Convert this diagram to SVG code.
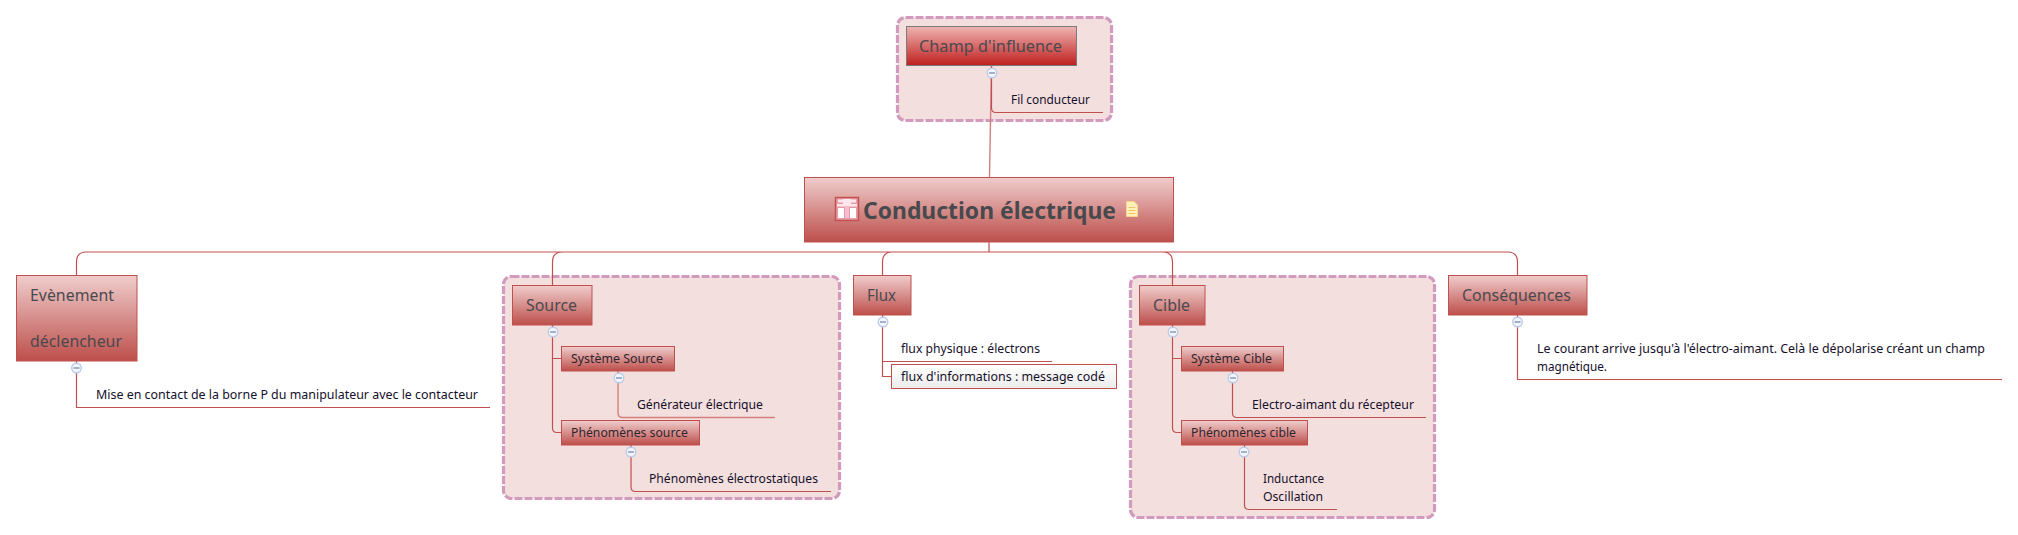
<svg xmlns="http://www.w3.org/2000/svg" width="2018" height="535" viewBox="0 0 2018 535">
<style>
text{font-family:"Noto Sans","Open Sans","Liberation Sans",sans-serif}
.t1{font-size:15.5px;fill:#4a494f}
.t2{font-size:12px;fill:#2f252f}
.t3{font-size:11.7px;fill:#15102a}
.c{font-size:24px;font-weight:700;fill:#47494d}
.box{fill:url(#g);stroke:#c0504d;stroke-width:1}
.boundary{fill:#f4dfdf;stroke:#d29bbd;stroke-width:3.2;stroke-dasharray:8 2}
.line{fill:none;stroke:#c0504d;stroke-width:1.2}
.line2{fill:none;stroke:#d27f7c;stroke-width:1.4}
.tog{fill:#f2f5fc;stroke:#bccbea;stroke-width:1.4}
.min{stroke:#66789a;stroke-width:1.1}
</style>
<defs>
<linearGradient id="g" x1="0" y1="0" x2="0" y2="1"><stop offset="0" stop-color="#efcdcc"/><stop offset="1" stop-color="#bd4f4b"/></linearGradient>
<linearGradient id="gr" x1="0" y1="0" x2="0" y2="1"><stop offset="0" stop-color="#eeb4b2"/><stop offset="1" stop-color="#bf1f1e"/></linearGradient>
<linearGradient id="gw" x1="0" y1="0" x2="0" y2="1"><stop offset="0" stop-color="#ffffff"/><stop offset="1" stop-color="#ececec"/></linearGradient>
<g id="toggle"><circle class="tog" r="4.8"/><line class="min" x1="-3" x2="3" y1="0" y2="0"/></g>
</defs>

<rect x="0" y="0" width="2018" height="535" fill="#fff"/>

<g id="boundaries">
<rect class="boundary" x="897.5" y="17.5" width="214" height="103" rx="8"/>
<rect class="boundary" x="503.5" y="276.5" width="336" height="222" rx="8"/>
<rect class="boundary" x="1130.5" y="276.5" width="304" height="241" rx="8"/>
</g>

<g id="connectors">
<path class="line2" d="M991.5 65L989.5 177"/>
<path class="line" d="M989 242V252"/>
<path class="line" d="M86.5 252H1507.5M76.5 275V262Q76.5 252 86.5 252M552.5 285V262Q552.5 252 562.5 252M882.5 275V262Q882.5 252 892.5 252M1172.5 285V262Q1172.5 252 1162.5 252M1517.5 275V262Q1517.5 252 1507.5 252"/>
<path class="line" d="M991.5 65V108Q991.5 112.5 996 112.5H1103"/>
<path class="line" d="M76.5 361V407.5H490"/>
<path class="line" d="M552.5 325V428Q552.5 432.5 557 432.5H561M552.5 358.5H561"/>
<path class="line2" d="M618 371V413Q618 417.5 622.5 417.5H775"/>
<path class="line" d="M631 445V487Q631 491.5 635.5 491.5H831"/>
<path class="line" d="M882.5 315V376.5H891M882.5 361.5H1052"/>
<path class="line" d="M1172.5 325V428Q1172.5 432.5 1177 432.5H1181M1172.5 358.5H1181"/>
<path class="line" d="M1232.5 371V413Q1232.5 417.5 1237 417.5H1426"/>
<path class="line" d="M1244.5 445V505Q1244.5 509.5 1249 509.5H1337"/>
<path class="line" d="M1517.5 315V379.5H2002"/>
</g>

<g id="node-champ">
<rect x="906.5" y="26.5" width="170" height="39" fill="url(#gr)" stroke="#7b7b7b"/>
<text class="t1" x="919" y="52" textLength="143" lengthAdjust="spacingAndGlyphs">Champ d'influence</text>
<use href="#toggle" x="992" y="73"/>
</g>
<g id="node-fil"><text class="t3" x="1011" y="104" textLength="79" lengthAdjust="spacingAndGlyphs">Fil conducteur</text></g>

<g id="node-central">
<rect class="box" x="804.5" y="177.5" width="369" height="64.5"/>
<g id="castle">
<rect x="835.5" y="197.5" width="23" height="23" fill="#e59aa6" stroke="#c0504d" stroke-width="1.4"/>
<rect x="838" y="199.5" width="5" height="3" fill="#ffe6ec"/>
<rect x="851" y="199.5" width="5" height="3" fill="#ffe6ec"/>
<rect x="843" y="199" width="8" height="5" fill="#ffe6ec"/>
<rect x="837" y="204" width="20" height="2.5" fill="#ffe6ec"/>
<rect x="838" y="208" width="6" height="10" fill="#fff"/>
<rect x="850" y="208" width="6" height="10" fill="#fff"/>
<rect x="845" y="207" width="4" height="11" fill="#f6bdd0"/>
</g>
<text class="c" x="863" y="218.5" textLength="253" lengthAdjust="spacingAndGlyphs">Conduction électrique</text>
<g id="note">
<path d="M1126.5 201.5H1134L1137.5 205V216.5H1126.5Z" fill="#fdf0b8" stroke="#f6d48a"/>
<path d="M1128.5 207.5H1135.5M1128.5 210.5H1135.5M1128.5 213.5H1135.5" stroke="#eec46c" fill="none"/>
</g>
</g>

<g id="node-evenement">
<rect class="box" x="16.5" y="275.5" width="120.5" height="85.5"/>
<text class="t1" x="30" y="301" textLength="84" lengthAdjust="spacingAndGlyphs">Evènement</text>
<text class="t1" x="30" y="347" textLength="92" lengthAdjust="spacingAndGlyphs">déclencheur</text>
<use href="#toggle" x="76.5" y="368"/>
</g>
<g id="node-mise"><text class="t3" x="96" y="399" textLength="382" lengthAdjust="spacingAndGlyphs">Mise en contact de la borne P du manipulateur avec le contacteur</text></g>

<g id="node-source">
<rect class="box" x="512.5" y="285.5" width="79.5" height="39.5"/>
<text class="t1" x="526" y="311" textLength="51" lengthAdjust="spacingAndGlyphs">Source</text>
<use href="#toggle" x="553" y="332"/>
</g>
<g id="node-systeme-source">
<rect class="box" x="561.5" y="346.5" width="113" height="24.5"/>
<text class="t2" x="571" y="363" textLength="92" lengthAdjust="spacingAndGlyphs">Système Source</text>
<use href="#toggle" x="619" y="378"/>
</g>
<g id="node-generateur"><text class="t3" x="637" y="409" textLength="126" lengthAdjust="spacingAndGlyphs">Générateur électrique</text></g>
<g id="node-phenomenes-source">
<rect class="box" x="561.5" y="420.5" width="138" height="24.5"/>
<text class="t2" x="571" y="437" textLength="117" lengthAdjust="spacingAndGlyphs">Phénomènes source</text>
<use href="#toggle" x="631" y="452"/>
</g>
<g id="node-electrostatiques"><text class="t3" x="649" y="483" textLength="169" lengthAdjust="spacingAndGlyphs">Phénomènes électrostatiques</text></g>

<g id="node-flux">
<rect class="box" x="853.5" y="275.5" width="57.5" height="39.5"/>
<text class="t1" x="867" y="301" textLength="29" lengthAdjust="spacingAndGlyphs">Flux</text>
<use href="#toggle" x="883" y="322"/>
</g>
<g id="node-flux-physique"><text class="t3" x="901" y="353" textLength="139" lengthAdjust="spacingAndGlyphs">flux physique : électrons</text></g>
<g id="node-flux-info">
<rect x="891.5" y="364.5" width="225" height="24" fill="url(#gw)" stroke="#c0504d"/>
<text class="t3" x="901" y="381" textLength="204" lengthAdjust="spacingAndGlyphs">flux d'informations : message codé</text>
</g>

<g id="node-cible">
<rect class="box" x="1139.5" y="285.5" width="65.5" height="39.5"/>
<text class="t1" x="1153" y="311" textLength="37" lengthAdjust="spacingAndGlyphs">Cible</text>
<use href="#toggle" x="1173" y="332"/>
</g>
<g id="node-systeme-cible">
<rect class="box" x="1181.5" y="346.5" width="102" height="24.5"/>
<text class="t2" x="1191" y="363" textLength="81" lengthAdjust="spacingAndGlyphs">Système Cible</text>
<use href="#toggle" x="1233" y="378"/>
</g>
<g id="node-electro"><text class="t3" x="1252" y="409" textLength="162" lengthAdjust="spacingAndGlyphs">Electro-aimant du récepteur</text></g>
<g id="node-phenomenes-cible">
<rect class="box" x="1181.5" y="420.5" width="126" height="24.5"/>
<text class="t2" x="1191" y="437" textLength="105" lengthAdjust="spacingAndGlyphs">Phénomènes cible</text>
<use href="#toggle" x="1244" y="452"/>
</g>
<g id="node-inductance">
<text class="t3" x="1263" y="483" textLength="61" lengthAdjust="spacingAndGlyphs">Inductance</text>
<text class="t3" x="1263" y="501" textLength="60" lengthAdjust="spacingAndGlyphs">Oscillation</text>
</g>

<g id="node-consequences">
<rect class="box" x="1448.5" y="275.5" width="138.5" height="39.5"/>
<text class="t1" x="1462" y="301" textLength="109" lengthAdjust="spacingAndGlyphs">Conséquences</text>
<use href="#toggle" x="1517.5" y="322"/>
</g>
<g id="node-courant">
<text class="t3" x="1537" y="353" textLength="448" lengthAdjust="spacingAndGlyphs">Le courant arrive jusqu'à l'électro-aimant. Celà le dépolarise créant un champ</text>
<text class="t3" x="1537" y="371" textLength="70" lengthAdjust="spacingAndGlyphs">magnétique.</text>
</g>
</svg>
